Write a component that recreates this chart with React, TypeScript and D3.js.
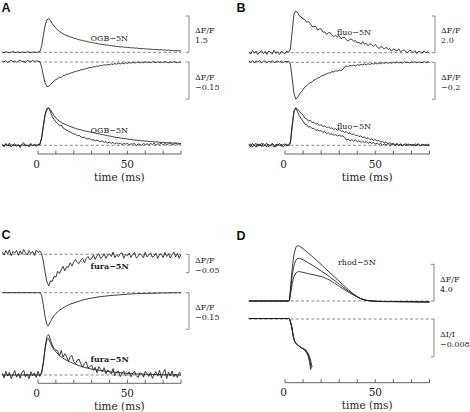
import React from "react";
import * as d3 from "d3";

// ---------- shared ----------
const sampleTimes = d3.range(-20, 81); // 1-ms sample grid, t = -20 .. 80 ms
const axisTicks = [0, 10, 20, 30, 40, 50, 60, 70, 80];
const labelledTicks = [0, 50];
const axisTitle = "time (ms)";

// ---------- Panel A : OGB-5N ----------
const ogbDFF = [
  0.01, -0.01, 0.02, 0, -0.02, 0.01, 0.03, -0.01, 0, 0.02, -0.02, 0.01, 0, -0.01, 0.02, 0.01, -0.02, 0, 0.01, -0.01, 0.01,
  0.02, 0.25, 0.7, 1.12, 1.34, 1.38, 1.31, 1.18, 1.09, 0.99,
  0.93, 0.86, 0.82, 0.76, 0.73, 0.69, 0.67, 0.63, 0.62, 0.58,
  0.57, 0.54, 0.52, 0.5, 0.49, 0.46, 0.46, 0.43, 0.42, 0.4,
  0.4, 0.37, 0.37, 0.34, 0.34, 0.32, 0.32, 0.3, 0.3, 0.28,
  0.28, 0.26, 0.26, 0.24, 0.24, 0.22, 0.23, 0.21, 0.21, 0.2,
  0.2, 0.18, 0.19, 0.17, 0.18, 0.16, 0.16, 0.15, 0.15, 0.14,
  0.14, 0.13, 0.13, 0.12, 0.12, 0.11, 0.11, 0.1, 0.11, 0.09,
  0.1, 0.08, 0.09, 0.08, 0.08, 0.07, 0.07, 0.06, 0.07, 0.05,
];
const ogbNeg = [
  0.004, 0.001, 0.006, -0.002, 0.003, 0.007, 0.001, 0.005, -0.001, 0.004, 0.008, 0.002, 0.003, -0.002, 0.006, 0.004, 0.001, 0.007, 0.002, 0.005, 0.003,
  0.002, -0.02, -0.055, -0.085, -0.1, -0.099, -0.092, -0.084, -0.077, -0.071,
  -0.068, -0.062, -0.063, -0.056, -0.054, -0.05, -0.049, -0.045, -0.044, -0.04,
  -0.039, -0.036, -0.035, -0.031, -0.032, -0.028, -0.027, -0.025, -0.022, -0.023,
  -0.019, -0.02, -0.016, -0.017, -0.014, -0.015, -0.011, -0.013, -0.01, -0.011,
  -0.008, -0.01, -0.006, -0.009, -0.005, -0.008, -0.004, -0.007, -0.003, -0.006,
  -0.002, -0.005, -0.001, -0.004, -0.002, 0, -0.004, -0.001, -0.003, 0.001,
  -0.002, 0, -0.003, 0.001, -0.001, -0.003, 0.001, -0.002, 0, -0.002,
  0.001, -0.001, -0.003, 0, -0.002, 0.001, -0.001, -0.003, 0, -0.001,
];
const ogbNormSlow = [
  0.01, -0.01, 0.015, 0, -0.01, 0.01, 0.005, -0.015, 0.01, 0, -0.01, 0.015, 0, 0.01, -0.01, 0.005, 0.01, -0.005, 0, 0.01, 0.005,
  0.01, 0.18, 0.5, 0.82, 0.97, 1.0, 0.96, 0.88, 0.8, 0.74,
  0.69, 0.65, 0.62, 0.59, 0.57, 0.55, 0.53, 0.51, 0.49, 0.47,
  0.46, 0.44, 0.43, 0.42, 0.4, 0.39, 0.38, 0.37, 0.36, 0.35,
  0.34, 0.33, 0.32, 0.31, 0.3, 0.29, 0.28, 0.27, 0.26, 0.25,
  0.24, 0.23, 0.22, 0.21, 0.21, 0.2, 0.19, 0.18, 0.18, 0.17,
  0.16, 0.16, 0.15, 0.14, 0.14, 0.13, 0.13, 0.12, 0.12, 0.11,
  0.11, 0.1, 0.1, 0.1, 0.09, 0.09, 0.09, 0.08, 0.08, 0.08,
  0.07, 0.07, 0.07, 0.07, 0.06, 0.06, 0.06, 0.06, 0.05, 0.05,
];
const ogbNormFast = [
  0.03, -0.04, 0.05, -0.02, 0.06, -0.05, 0.01, 0.04, -0.03, 0.02, -0.06, 0.03, 0.07, -0.02, 0.01, -0.04, 0.05, -0.01, 0.03, -0.03, 0.02,
  0.03, 0.2, 0.55, 0.85, 1.0, 1.01, 0.9, 0.78, 0.7, 0.63,
  0.59, 0.53, 0.55, 0.47, 0.44, 0.41, 0.38, 0.36, 0.33, 0.31,
  0.3, 0.26, 0.27, 0.23, 0.21, 0.22, 0.18, 0.17, 0.19, 0.14,
  0.15, 0.12, 0.14, 0.11, 0.1, 0.12, 0.08, 0.1, 0.06, 0.09,
  0.05, 0.08, 0.03, 0.07, 0.04, 0.06, 0.02, 0.05, 0.03, 0.06,
  0.01, 0.04, 0.03, 0.05, -0.01, 0.04, 0.02, 0.0, 0.05, 0.02,
  0.04, 0.01, 0.05, 0.02, 0.06, 0.0, 0.04, 0.03, 0.06, 0.01,
  0.05, 0.02, 0.04, 0.07, 0.01, 0.03, 0.06, 0.02, 0.04, 0.03,
];

// ---------- Panel B : fluo-5N ----------
const fluoDFF = [
  0.05, -0.08, 0.12, -0.03, 0.09, -0.1, 0.04, 0.11, -0.06, 0.07, -0.09, 0.1, 0.02, -0.07, 0.13, -0.04, 0.06, -0.1, 0.08, 0.01, -0.05, 0.09, 0.02,
  0.2, 1.2, 2.12, 2.27, 2.18, 2.0, 1.95, 1.84,
  1.81, 1.65, 1.7, 1.58, 1.43, 1.42, 1.44, 1.23, 1.3, 1.29,
  1.12, 1.13, 1.0, 1.09, 1.09, 0.94, 0.88, 0.95, 0.87, 0.94,
  0.76, 0.82, 0.83, 0.7, 0.64, 0.73, 0.74, 0.62, 0.66, 0.53,
  0.57, 0.46, 0.6, 0.46, 0.51, 0.38, 0.49, 0.43, 0.34, 0.45,
  0.33, 0.22, 0.34, 0.3, 0.19, 0.3, 0.18, 0.22, 0.08, 0.21,
  0.15, 0.09, 0.21, 0.04, 0.12, 0.14, 0.06, 0.0, 0.14, 0.09,
  0.0, 0.11, -0.05, 0.08, 0.04, -0.03, 0.1, 0.0, 0.06, -0.03,
];
const fluoNeg = [
  0.006, 0.0, 0.009, -0.004, 0.007, 0.002, 0.01, -0.003, 0.005, 0.008, -0.002, 0.006, 0.001, 0.009, -0.003, 0.004, 0.007, 0.0, 0.008, -0.002, 0.005, 0.003, 0.006,
  -0.01, -0.09, -0.17, -0.2, -0.19, -0.172, -0.16, -0.148,
  -0.133, -0.126, -0.118, -0.11, -0.106, -0.096, -0.092, -0.085, -0.083, -0.075,
  -0.07, -0.068, -0.062, -0.058, -0.057, -0.051, -0.052, -0.046, -0.048, -0.042,
  -0.044, -0.039, -0.024, -0.02, -0.023, -0.017, -0.02, -0.015, -0.019, -0.013,
  -0.016, -0.011, -0.015, -0.009, -0.013, -0.008, -0.012, -0.006, -0.01, -0.005,
  -0.009, -0.003, -0.008, -0.002, -0.007, 0.0, -0.006, -0.001, -0.005, 0.001,
  -0.004, 0.002, -0.003, 0.0, -0.005, 0.003, -0.002, 0.001, -0.004, 0.002,
  -0.001, 0.003, -0.003, 0.002, 0.0, -0.002, 0.004, -0.001, 0.002, 0.0,
];
const fluoNormSlow = [
  0.03, -0.04, 0.05, 0.0, -0.05, 0.04, -0.02, 0.06, -0.03, 0.02, 0.05, -0.04, 0.01, 0.04, -0.05, 0.03, -0.01, 0.05, -0.03, 0.02, 0.04, -0.02, 0.01,
  0.1, 0.55, 0.92, 1.0, 0.95, 0.9, 0.84, 0.8,
  0.72, 0.7, 0.64, 0.66, 0.6, 0.61, 0.56, 0.57, 0.53, 0.54,
  0.5, 0.52, 0.47, 0.49, 0.45, 0.46, 0.42, 0.44, 0.4, 0.42,
  0.37, 0.38, 0.34, 0.36, 0.31, 0.33, 0.28, 0.3, 0.26, 0.27,
  0.23, 0.25, 0.2, 0.22, 0.18, 0.2, 0.15, 0.17, 0.13, 0.15,
  0.11, 0.13, 0.08, 0.11, 0.06, 0.09, 0.04, 0.07, 0.03, 0.06,
  0.01, 0.05, -0.01, 0.04, 0.0, 0.03, -0.02, 0.04, 0.01, 0.02,
  -0.01, 0.04, 0.0, 0.02, -0.02, 0.03, 0.01, -0.01, 0.03, 0.0,
];
const fluoNormFast = [
  -0.02, 0.04, -0.05, 0.02, 0.05, -0.03, 0.03, -0.04, 0.05, -0.01, -0.04, 0.03, -0.02, 0.05, 0.0, -0.04, 0.04, -0.02, 0.03, -0.04, 0.01, 0.03, -0.02,
  0.05, 0.5, 0.9, 0.98, 0.88, 0.78, 0.7, 0.64,
  0.56, 0.55, 0.48, 0.5, 0.44, 0.45, 0.4, 0.41, 0.38, 0.39,
  0.34, 0.36, 0.31, 0.33, 0.29, 0.3, 0.27, 0.28, 0.25, 0.27,
  0.24, 0.25, 0.21, 0.14, 0.16, 0.12, 0.15, 0.11, 0.14, 0.1,
  0.12, 0.08, 0.11, 0.07, 0.1, 0.05, 0.09, 0.04, 0.08, 0.03,
  0.06, 0.02, 0.05, 0.0, 0.04, 0.01, 0.05, -0.01, 0.03, 0.02,
  -0.01, 0.04, 0.0, 0.03, -0.02, 0.02, 0.04, -0.01, 0.02, 0.0,
  0.03, -0.02, 0.02, 0.04, -0.01, 0.02, 0.0, 0.03, -0.02, 0.01,
];

// ---------- Panel C : fura-5N ----------
const furaDFF = [
  0.006, -0.002, 0.01, 0.001, 0.012, -0.004, 0.008, 0.003, 0.011, -0.003, 0.009, 0.0, 0.013, 0.004, -0.002, 0.01, 0.002, 0.008, -0.003, 0.011, 0.005, 0.009, 0.002,
  -0.02, -0.05, -0.075, -0.086, -0.072, -0.074, -0.06, -0.062,
  -0.046, -0.052, -0.042, -0.033, -0.045, -0.034, -0.035, -0.023, -0.032, -0.021,
  -0.014, -0.023, -0.025, -0.015, -0.011, -0.023, -0.011, -0.006, -0.015, -0.011,
  -0.002, -0.014, -0.004, 0.0015, -0.011, -0.007, 0.0015, -0.011, -0.0025, 0.001,
  -0.006, 0.006, -0.009, -0.001, -0.007, 0.002, 0.004, -0.011, 0.0, -0.004,
  0.003, -0.008, -0.001, 0.005, -0.01, -0.006, 0.002, -0.002, -0.009, 0.006,
  -0.007, -0.001, 0.004, -0.008, -0.005, 0.003, -0.011, 0.0, 0.001, -0.009,
  0.005, -0.006, 0.002, -0.01, -0.001, 0.006, -0.007, 0.003, -0.011, 0.0,
];
const furaModelT = [-20, 1, 2, 3, 4, 5, 5.5, 6, 7, 8, 9, 10, 12, 14, 16, 18, 20, 25, 30, 35, 40, 45, 50, 55, 60, 70, 80];
const furaModelDFF = [0, 0, -0.01, -0.05, -0.1, -0.13, -0.136, -0.133, -0.118, -0.104, -0.094, -0.085, -0.072, -0.062, -0.054, -0.047, -0.042, -0.03, -0.022, -0.016, -0.012, -0.009, -0.006, -0.004, -0.003, -0.001, 0];
const furaModelNorm = [0, 0, 0.07, 0.37, 0.74, 0.96, 1.0, 0.98, 0.87, 0.76, 0.69, 0.63, 0.53, 0.46, 0.4, 0.35, 0.31, 0.22, 0.16, 0.12, 0.09, 0.066, 0.044, 0.03, 0.022, 0.007, 0];
const furaNormData = [
  0.05, -0.08, 0.1, -0.03, 0.07, -0.1, 0.02, 0.12, -0.06, 0.04, -0.09, 0.08, 0.13, -0.05, 0.03, -0.1, 0.09, -0.02, 0.06, -0.07, 0.1, -0.04, 0.05,
  0.3, 0.75, 1.05, 1.1, 0.95, 0.82, 0.72, 0.68,
  0.66, 0.52, 0.67, 0.49, 0.58, 0.5, 0.37, 0.5, 0.53, 0.36,
  0.31, 0.41, 0.43, 0.3, 0.22, 0.31, 0.36, 0.19, 0.23, 0.27,
  0.13, 0.21, 0.06, 0.23, 0.16, 0.09, 0.2, 0.03, 0.14, 0.09,
  0.03, 0.175, -0.02, 0.085, 0.11, -0.045, 0.06, 0.105, -0.02, 0.02,
  0.09, -0.05, 0.05, 0.11, -0.02, -0.07, 0.06, 0.03, -0.06, 0.1,
  0.04, -0.04, 0.07, -0.09, 0.02, 0.09, -0.03, 0.13, -0.08, 0.06,
  0.15, -0.1, 0.08, -0.02, 0.11, -0.05, 0.03, -0.07, 0.07, 0.04,
];

// ---------- Panel D : rhod-5N ----------
const rhodT = [-20, 2, 2.5, 3, 4, 5, 6, 7, 8, 10, 13, 16, 21, 25, 30, 35, 38, 40, 42, 45, 50, 55, 60, 65, 70, 75, 80];
const rhodHigh = [0, 0, 0.1, 1.3, 3.6, 5.1, 5.85, 6.03, 5.98, 5.7, 5.2, 4.7, 3.8, 3.05, 2.15, 1.25, 0.75, 0.48, 0.25, 0.07, -0.02, -0.05, -0.06, -0.08, -0.07, -0.1, -0.1];
const rhodMid = [0, 0, 0.1, 1.0, 2.8, 3.9, 4.45, 4.63, 4.65, 4.5, 4.15, 3.8, 3.15, 2.6, 1.85, 1.1, 0.7, 0.46, 0.25, 0.07, -0.04, -0.06, -0.08, -0.06, -0.09, -0.08, -0.12];
const rhodLow = [0, 0, 0.08, 0.7, 1.9, 2.7, 3.05, 3.18, 3.2, 3.12, 2.98, 2.85, 2.62, 2.25, 1.6, 0.98, 0.65, 0.44, 0.24, 0.07, -0.03, -0.07, -0.05, -0.09, -0.08, -0.11, -0.09];
const absT1 = [-20, 2, 2.5, 3, 3.7, 4.6, 5.3, 6.1, 7, 8.3, 9.5, 11, 12, 12.9, 13.6, 14.2];
const absV1 = [0.0001, 0.0001, 0, -0.0006, -0.0016, -0.0037, -0.0047, -0.0052, -0.0055, -0.0059, -0.0062, -0.0066, -0.0072, -0.008, -0.0092, -0.0108];
const absT2 = [-20, 2, 2.5, 3, 3.7, 4.6, 5.3, 6.1, 7, 8.3, 9.5, 11, 12, 13, 13.8, 14.6];
const absV2 = [0.0001, 0.0001, 0, -0.0006, -0.0016, -0.0037, -0.0047, -0.0052, -0.0055, -0.0059, -0.0062, -0.0065, -0.007, -0.0077, -0.0088, -0.0105];
const absT3 = [-20, 2, 2.5, 3, 3.7, 4.6, 5.3, 6.1, 7, 8.3, 9.5, 11, 12, 13, 14, 15];
const absV3 = [0.0001, 0.0001, 0, -0.0006, -0.0016, -0.0037, -0.0047, -0.0052, -0.0055, -0.0059, -0.0062, -0.0064, -0.0068, -0.0074, -0.0085, -0.0102];

// ---------- helpers ----------
type Pt = [number, number];
const onGrid = (vals: number[]): Pt[] =>
  vals.slice(0, sampleTimes.length).map((v, i) => [sampleTimes[i], v] as Pt);
const pairs = (ts: number[], vs: number[]): Pt[] => ts.map((t, i) => [t, vs[i]] as Pt);

const SERIF = "'DejaVu Serif', 'Liberation Serif', serif";
const INK = "#1c1c1c";

function Trace({ pts, x, y, w = 0.85 }: { pts: Pt[]; x: any; y: any; w?: number }) {
  const d = d3
    .line<Pt>()
    .x((p) => x(p[0]))
    .y((p) => y(p[1]))(pts);
  return <path d={d || ""} fill="none" stroke={INK} strokeWidth={w} strokeLinejoin="round" />;
}

function Baseline({ x, y }: { x: any; y: any }) {
  return (
    <line
      x1={x(-20)}
      x2={x(80)}
      y1={y(0)}
      y2={y(0)}
      stroke="#6a6a6a"
      strokeWidth={0.8}
      strokeDasharray="3,2.2"
    />
  );
}

function Bracket({ bx, y, value, lines }: { bx: number; y: any; value: number; lines: string[] }) {
  const y0 = y(0);
  const y1 = y(value);
  const top = Math.min(y0, y1);
  const bot = Math.max(y0, y1);
  const mid = (top + bot) / 2;
  return (
    <g>
      <path
        d={`M${bx - 3},${top} H${bx} V${bot} H${bx - 3}`}
        fill="none"
        stroke="#8a8a8a"
        strokeWidth={1}
      />
      <text x={bx + 6} y={mid - 1} fontSize={8} fontFamily={SERIF} fill={INK}>
        {lines[0]}
      </text>
      <text x={bx + 6} y={mid + 9} fontSize={8} fontFamily={SERIF} fill={INK}>
        {lines[1]}
      </text>
    </g>
  );
}

function TimeAxis({ x, ay }: { x: any; ay: number }) {
  return (
    <g>
      <line x1={x(0)} x2={x(80)} y1={ay} y2={ay} stroke="#555" strokeWidth={0.9} />
      {axisTicks.map((t) => (
        <line key={t} x1={x(t)} x2={x(t)} y1={ay} y2={ay - 3.5} stroke="#555" strokeWidth={0.9} />
      ))}
      {labelledTicks.map((t) => (
        <text
          key={t}
          x={x(t) - (t === 0 ? 1.5 : 0)}
          y={ay + 13.5}
          textAnchor="middle"
          fontSize={10.5}
          fontFamily={SERIF}
          fill={INK}
        >
          {t}
        </text>
      ))}
      <text x={x(45.5)} y={ay + 26.5} textAnchor="middle" fontSize={10.5} fontFamily={SERIF} fill={INK}>
        {axisTitle}
      </text>
    </g>
  );
}

function PanelLetter({ x, y, s }: { x: number; y: number; s: string }) {
  return (
    <text x={x} y={y} fontSize={12.5} fontWeight="bold" fontFamily="'Liberation Sans', Arial, sans-serif" fill="#111">
      {s}
    </text>
  );
}

function DyeLabel({ x, y, s, bold = false }: { x: number; y: number; s: string; bold?: boolean }) {
  return (
    <text x={x} y={y} fontSize={8} fontWeight={bold ? "bold" : "normal"} fontFamily={SERIF} fill={INK}>
      {s}
    </text>
  );
}

export default function App() {
  // horizontal scales (t = -20..80 ms)
  const xLeft = d3.scaleLinear().domain([0, 80]).range([38, 181]);
  const xRight = d3.scaleLinear().domain([0, 80]).range([285, 429.5]);

  // Panel A rows
  const yA1 = d3.scaleLinear().domain([0, 1.5]).range([52.3, 16]);
  const yA2 = d3.scaleLinear().domain([0, -0.15]).range([62, 99]);
  const yA3 = d3.scaleLinear().domain([0, 1]).range([145.3, 108.3]);
  // Panel B rows
  const yB1 = d3.scaleLinear().domain([0, 2.0]).range([52.7, 16]);
  const yB2 = d3.scaleLinear().domain([0, -0.2]).range([62.3, 99.3]);
  const yB3 = d3.scaleLinear().domain([0, 1]).range([145.3, 107.5]);
  // Panel C rows
  const yC1 = d3.scaleLinear().domain([0, -0.05]).range([254.3, 272.7]);
  const yC2 = d3.scaleLinear().domain([0, -0.15]).range([292.7, 329.3]);
  const yC3 = d3.scaleLinear().domain([0, 1]).range([375, 338.3]);
  // Panel D rows
  const yD1 = d3.scaleLinear().domain([0, 4.0]).range([301, 264.3]);
  const yD2 = d3.scaleLinear().domain([0, -0.008]).range([319, 356.7]);

  return (
    <svg width={470} height={412} viewBox="0 0 470 412" style={{ display: "block", position: "absolute", left: 0, top: 0, background: "#fff" }}>
      <rect x={0} y={0} width={470} height={412} fill="#fff" />

      {/* ---------------- A ---------------- */}
      <PanelLetter x={1.5} y={12} s="A" />
      <Baseline x={xLeft} y={yA1} />
      <Trace pts={onGrid(ogbDFF)} x={xLeft} y={yA1} />
      <DyeLabel x={90.5} y={41} s="OGB−5N" />
      <Bracket bx={189} y={yA1} value={1.5} lines={["ΔF/F", "1.5"]} />
      <Baseline x={xLeft} y={yA2} />
      <Trace pts={onGrid(ogbNeg)} x={xLeft} y={yA2} />
      <Bracket bx={189} y={yA2} value={-0.15} lines={["ΔF/F", "−0.15"]} />
      <Baseline x={xLeft} y={yA3} />
      <Trace pts={onGrid(ogbNormFast)} x={xLeft} y={yA3} />
      <Trace pts={onGrid(ogbNormSlow)} x={xLeft} y={yA3} />
      <DyeLabel x={90.5} y={133} s="OGB−5N" />
      <TimeAxis x={xLeft} ay={154} />

      {/* ---------------- B ---------------- */}
      <PanelLetter x={236.5} y={12} s="B" />
      <Baseline x={xRight} y={yB1} />
      <Trace pts={onGrid(fluoDFF)} x={xRight} y={yB1} />
      <DyeLabel x={337} y={35} s="fluo−5N" />
      <Bracket bx={435} y={yB1} value={2.0} lines={["ΔF/F", "2.0"]} />
      <Baseline x={xRight} y={yB2} />
      <Trace pts={onGrid(fluoNeg)} x={xRight} y={yB2} />
      <Bracket bx={435} y={yB2} value={-0.2} lines={["ΔF/F", "−0.2"]} />
      <Baseline x={xRight} y={yB3} />
      <Trace pts={onGrid(fluoNormFast)} x={xRight} y={yB3} />
      <Trace pts={onGrid(fluoNormSlow)} x={xRight} y={yB3} />
      <DyeLabel x={337} y={128.5} s="fluo−5N" />
      <TimeAxis x={xRight} ay={154} />

      {/* ---------------- C ---------------- */}
      <PanelLetter x={1.5} y={238.5} s="C" />
      <Baseline x={xLeft} y={yC1} />
      <Trace pts={onGrid(furaDFF)} x={xLeft} y={yC1} />
      <DyeLabel x={90.5} y={269} s="fura−5N" bold />
      <Bracket bx={189} y={yC1} value={-0.05} lines={["ΔF/F", "−0.05"]} />
      <Baseline x={xLeft} y={yC2} />
      <Trace pts={pairs(furaModelT, furaModelDFF)} x={xLeft} y={yC2} />
      <Bracket bx={189} y={yC2} value={-0.15} lines={["ΔF/F", "−0.15"]} />
      <Baseline x={xLeft} y={yC3} />
      <Trace pts={onGrid(furaNormData)} x={xLeft} y={yC3} />
      <Trace pts={pairs(furaModelT, furaModelNorm)} x={xLeft} y={yC3} />
      <DyeLabel x={90.5} y={361.5} s="fura−5N" bold />
      <TimeAxis x={xLeft} ay={383.3} />

      {/* ---------------- D ---------------- */}
      <PanelLetter x={236.5} y={239.5} s="D" />
      <Baseline x={xRight} y={yD1} />
      <Trace pts={pairs(rhodT, rhodLow)} x={xRight} y={yD1} />
      <Trace pts={pairs(rhodT, rhodMid)} x={xRight} y={yD1} />
      <Trace pts={pairs(rhodT, rhodHigh)} x={xRight} y={yD1} />
      <DyeLabel x={338} y={265} s="rhod−5N" />
      <Bracket bx={434} y={yD1} value={4.0} lines={["ΔF/F", "4.0"]} />
      <Baseline x={xRight} y={yD2} />
      <Trace pts={pairs(absT1, absV1)} x={xRight} y={yD2} />
      <Trace pts={pairs(absT2, absV2)} x={xRight} y={yD2} />
      <Trace pts={pairs(absT3, absV3)} x={xRight} y={yD2} />
      <Bracket bx={434} y={yD2} value={-0.008} lines={["ΔI/I", "−0.008"]} />
      <TimeAxis x={xRight} ay={382.7} />
    </svg>
  );
}
